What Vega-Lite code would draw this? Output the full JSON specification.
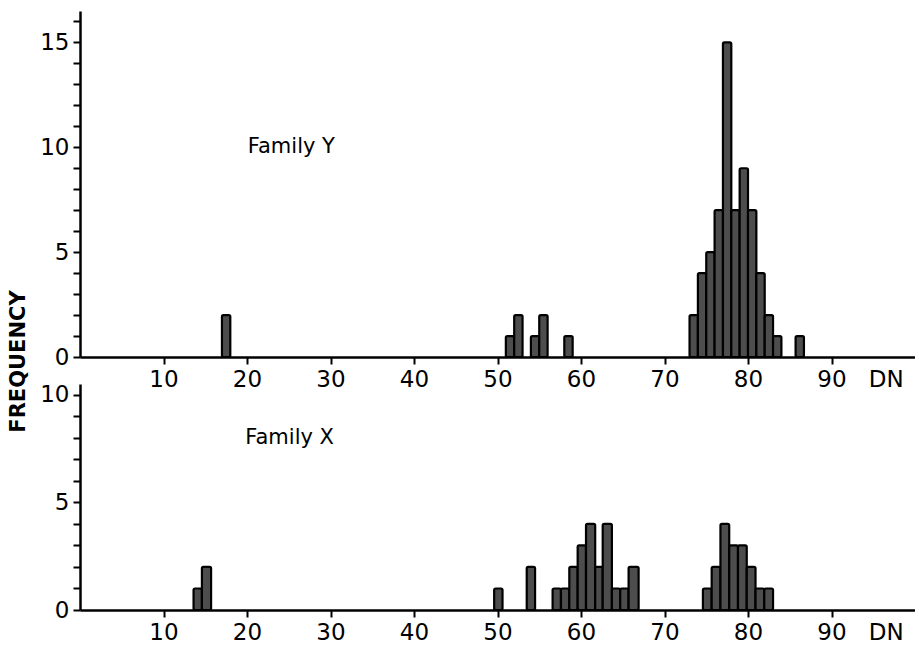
{
  "$schema": "https://vega.github.io/schema/vega-lite/v6.json",
  "background": "white",
  "padding": {"left": 7, "top": 10, "right": 0, "bottom": 0},
  "bounds": "flush",
  "spacing": 27,
  "datasets": {
    "familyY": [
      {"lo": 17, "hi": 18, "n": 2},
      {"lo": 51, "hi": 52, "n": 1},
      {"lo": 52, "hi": 53, "n": 2},
      {"lo": 54, "hi": 55, "n": 1},
      {"lo": 55, "hi": 56, "n": 2},
      {"lo": 58, "hi": 59, "n": 1},
      {"lo": 73, "hi": 74, "n": 2},
      {"lo": 74, "hi": 75, "n": 4},
      {"lo": 75, "hi": 76, "n": 5},
      {"lo": 76, "hi": 77, "n": 7},
      {"lo": 77, "hi": 78, "n": 15},
      {"lo": 78, "hi": 79, "n": 7},
      {"lo": 79, "hi": 80, "n": 9},
      {"lo": 80, "hi": 81, "n": 7},
      {"lo": 81, "hi": 82, "n": 4},
      {"lo": 82, "hi": 83, "n": 2},
      {"lo": 83, "hi": 84, "n": 1},
      {"lo": 85.7, "hi": 86.7, "n": 1}
    ],
    "familyX": [
      {"lo": 13.6, "hi": 14.6, "n": 1},
      {"lo": 14.6, "hi": 15.7, "n": 2},
      {"lo": 49.6, "hi": 50.6, "n": 1},
      {"lo": 53.5, "hi": 54.5, "n": 2},
      {"lo": 56.6, "hi": 57.6, "n": 1},
      {"lo": 57.6, "hi": 58.6, "n": 1},
      {"lo": 58.6, "hi": 59.6, "n": 2},
      {"lo": 59.6, "hi": 60.6, "n": 3},
      {"lo": 60.6, "hi": 61.7, "n": 4},
      {"lo": 61.7, "hi": 62.6, "n": 2},
      {"lo": 62.6, "hi": 63.7, "n": 4},
      {"lo": 63.7, "hi": 64.7, "n": 1},
      {"lo": 64.7, "hi": 65.7, "n": 1},
      {"lo": 65.7, "hi": 66.9, "n": 2},
      {"lo": 74.6, "hi": 75.65, "n": 1},
      {"lo": 75.65, "hi": 76.7, "n": 2},
      {"lo": 76.7, "hi": 77.75, "n": 4},
      {"lo": 77.75, "hi": 78.8, "n": 3},
      {"lo": 78.8, "hi": 79.85, "n": 3},
      {"lo": 79.85, "hi": 80.9, "n": 2},
      {"lo": 80.9, "hi": 81.95, "n": 1},
      {"lo": 81.95, "hi": 83.0, "n": 1}
    ]
  },
  "vconcat": [
    {
      "width": 835,
      "height": 346,
      "encoding": {
        "x": {
          "field": "lo", "type": "quantitative",
          "scale": {"domain": [0, 100], "nice": false, "zero": false},
          "axis": {
            "title": null,
            "values": [10, 20, 30, 40, 50, 60, 70, 80, 90, 96.5],
            "labelExpr": "datum.value > 95 ? 'DN' : datum.label",
            "tickOpacity": {"condition": {"test": "datum.value > 95", "value": 0}, "value": 1}
          }
        },
        "y": {
          "field": "n", "type": "quantitative",
          "scale": {"domain": [0, 16.5], "nice": false},
          "axis": {
            "values": [0, 1, 2, 3, 4, 5, 6, 7, 8, 9, 10, 11, 12, 13, 14, 15, 16],
            "labelExpr": "datum.value % 5 == 0 ? datum.label : ''",
            "title": "FREQUENCY",
            "titleX": -62,
            "titleY": 350,
            "titleAngle": 270,
            "titleAlign": "center",
            "titleBaseline": "middle"
          }
        }
      },
      "layer": [
        {
          "data": {"name": "familyY"},
          "mark": {"type": "bar", "fill": "#4d4d4d", "stroke": "black", "strokeWidth": 2.2, "cornerRadius": 1.5},
          "encoding": {
            "x2": {"field": "hi"},
            "y2": {"datum": 0}
          }
        },
        {
          "data": {"values": [{"lo": 20.1, "n": 10, "label": "Family Y"}]},
          "mark": {"type": "text", "align": "left", "baseline": "middle", "font": "DejaVu Sans", "fontSize": 21, "color": "black"},
          "encoding": {
            "text": {"field": "label"}
          }
        }
      ]
    },
    {
      "width": 835,
      "height": 226,
      "encoding": {
        "x": {
          "field": "lo", "type": "quantitative",
          "scale": {"domain": [0, 100], "nice": false, "zero": false},
          "axis": {
            "title": null,
            "values": [10, 20, 30, 40, 50, 60, 70, 80, 90, 96.5],
            "labelExpr": "datum.value > 95 ? 'DN' : datum.label",
            "tickOpacity": {"condition": {"test": "datum.value > 95", "value": 0}, "value": 1}
          }
        },
        "y": {
          "field": "n", "type": "quantitative",
          "scale": {"domain": [0, 10.5], "nice": false},
          "axis": {
            "values": [0, 1, 2, 3, 4, 5, 6, 7, 8, 9, 10],
            "labelExpr": "datum.value % 5 == 0 ? datum.label : ''",
            "title": null
          }
        }
      },
      "layer": [
        {
          "data": {"name": "familyX"},
          "mark": {"type": "bar", "fill": "#4d4d4d", "stroke": "black", "strokeWidth": 2.2, "cornerRadius": 1.5},
          "encoding": {
            "x2": {"field": "hi"},
            "y2": {"datum": 0}
          }
        },
        {
          "data": {"values": [{"lo": 19.8, "n": 8, "label": "Family X"}]},
          "mark": {"type": "text", "align": "left", "baseline": "middle", "font": "DejaVu Sans", "fontSize": 21, "color": "black"},
          "encoding": {
            "text": {"field": "label"}
          }
        }
      ]
    }
  ],
  "config": {
    "view": {"stroke": null},
    "axis": {
      "grid": false,
      "ticks": true,
      "tickSize": 7,
      "tickWidth": 2,
      "tickColor": "black",
      "domainColor": "black",
      "domainWidth": 2.5,
      "labelFont": "DejaVu Sans",
      "labelFontSize": 23,
      "labelColor": "black",
      "labelPadding": 4,
      "labelOverlap": false,
      "labelFlush": false,
      "titleFont": "DejaVu Sans",
      "titleFontSize": 21,
      "titleFontWeight": "bold",
      "titleColor": "black"
    }
  }
}
